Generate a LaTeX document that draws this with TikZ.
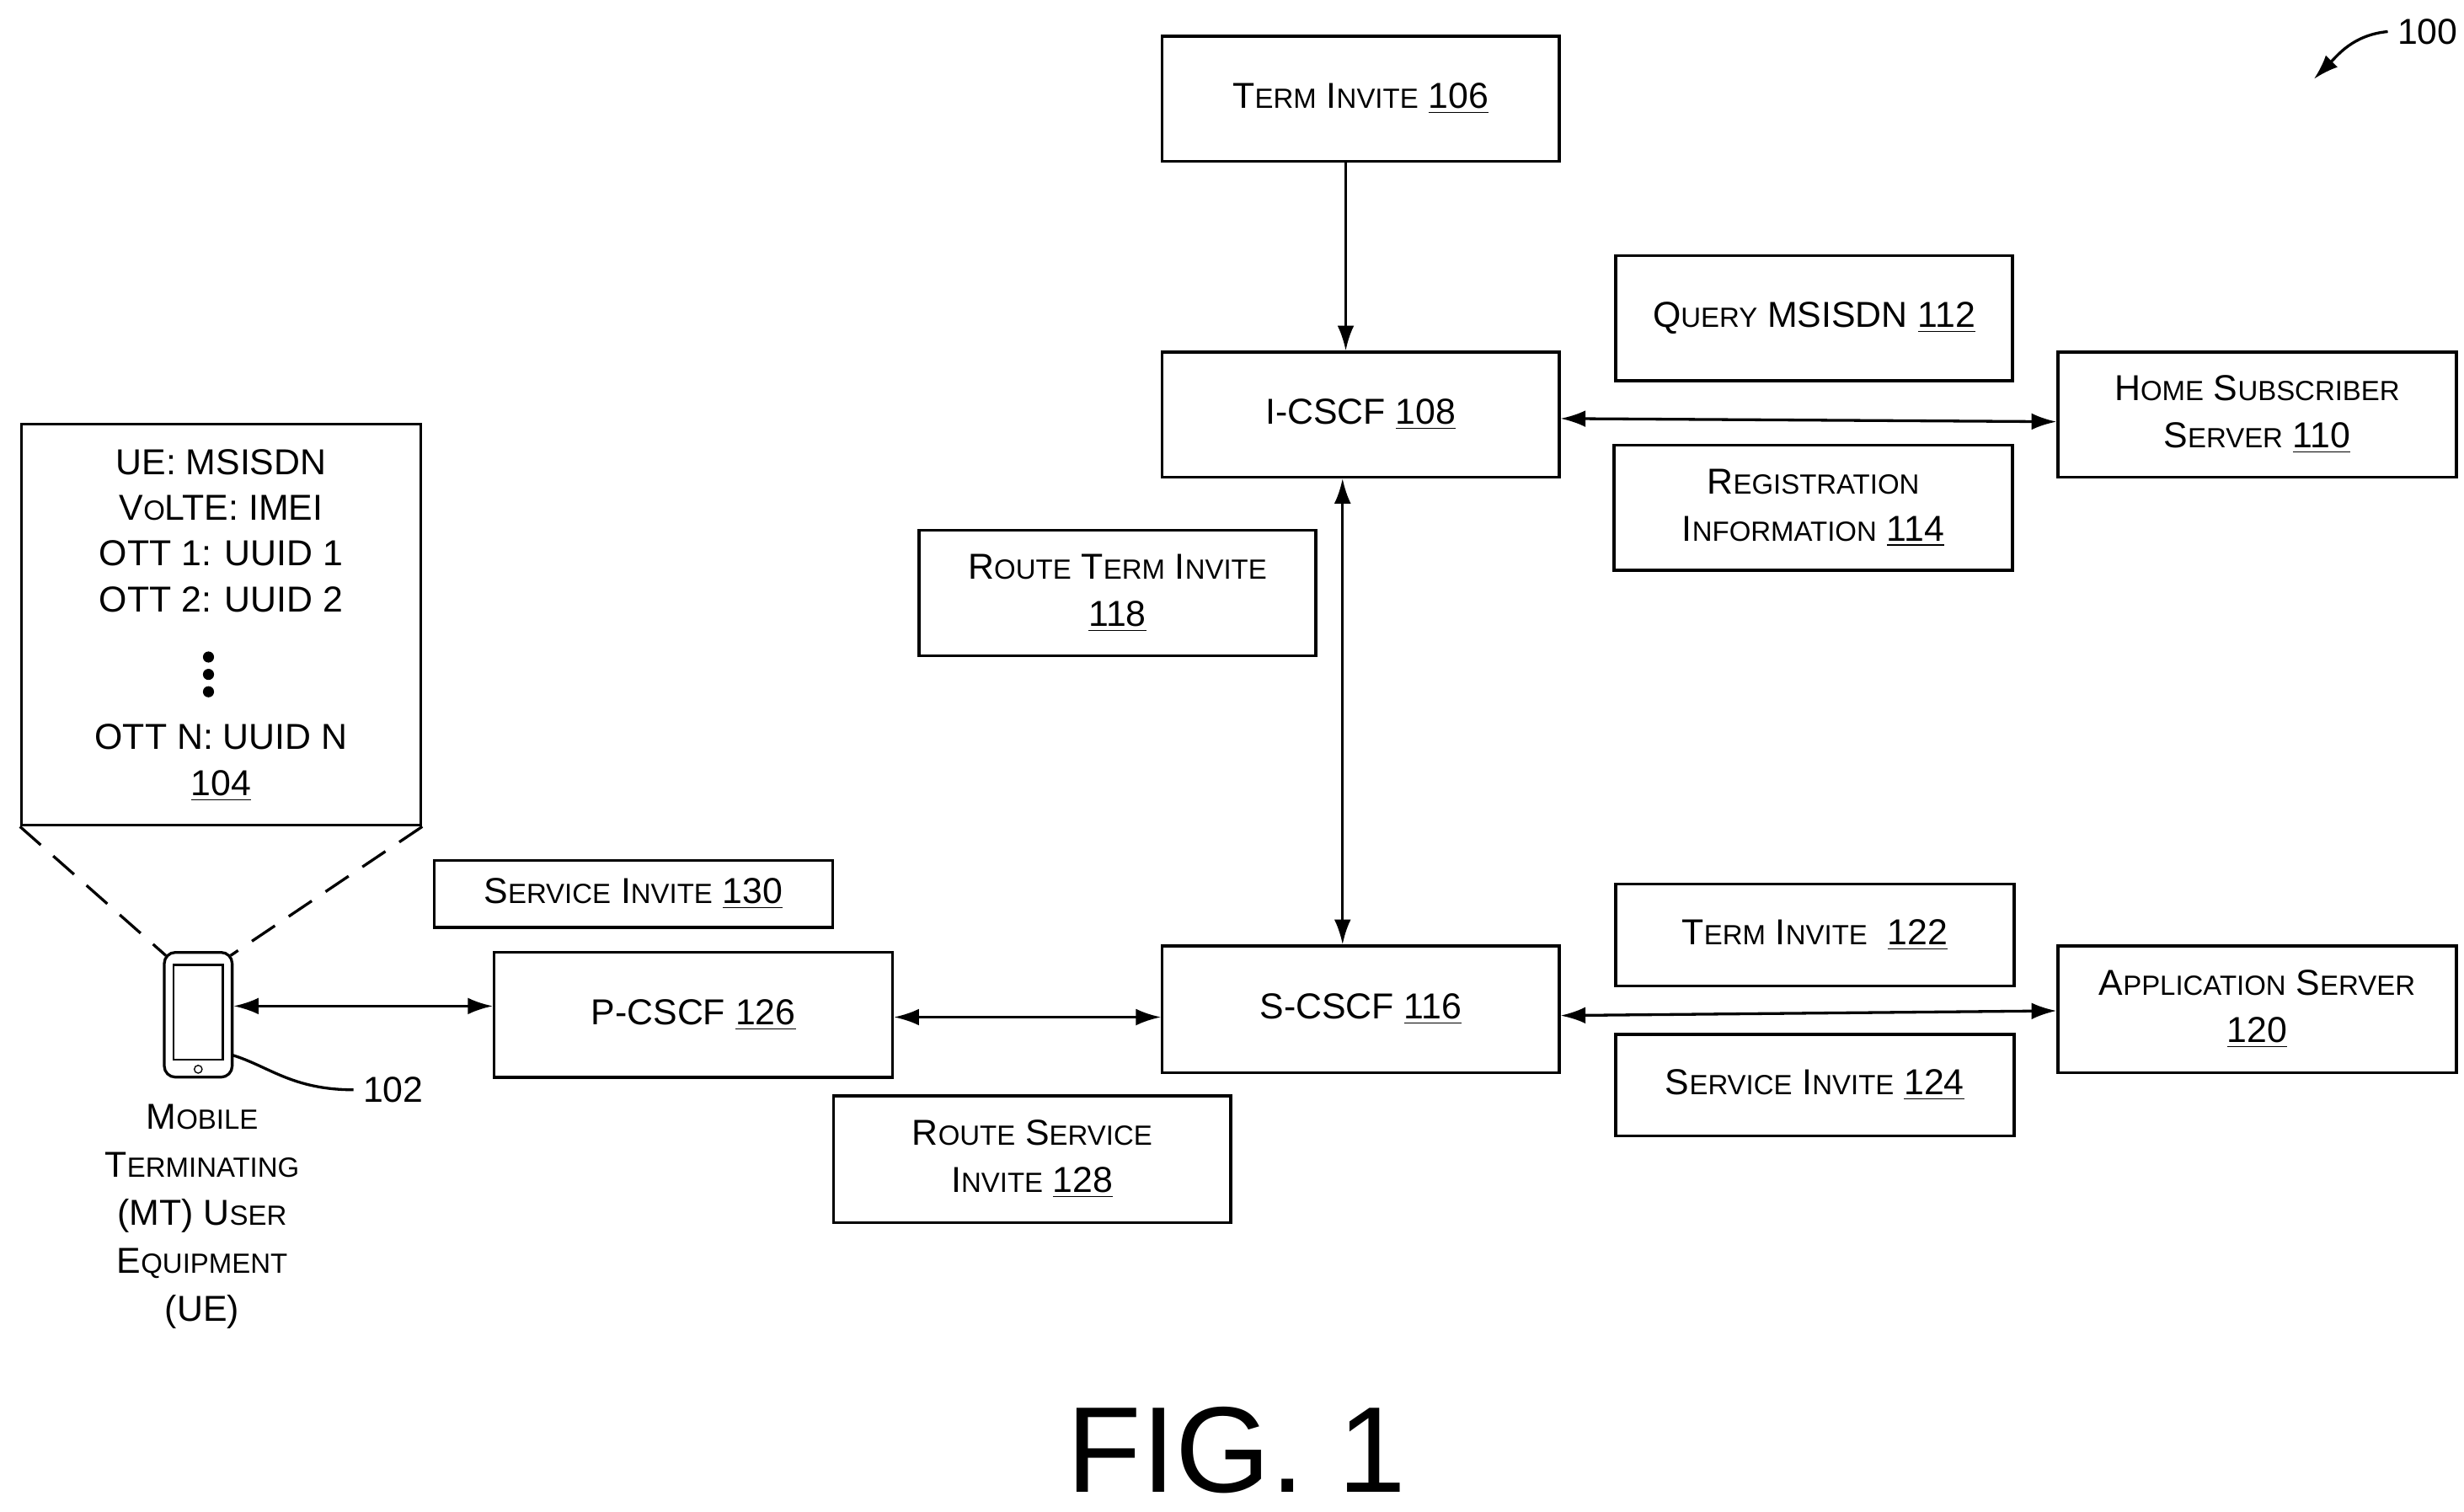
\documentclass[tikz,border=0pt]{standalone}
\usepackage{fontspec}
\setmainfont{Liberation Sans}
\usetikzlibrary{arrows.meta}
\newcommand\sm[1]{{\fontsize{10}{12}\selectfont #1}}
\newcommand\un[1]{\underline{#1}}
\begin{document}
\begin{tikzpicture}[x=0.02cm,y=-0.02cm,
  box/.style={draw,line width=1pt,align=center,font=\fontsize{13}{17}\selectfont,inner sep=0pt},
  ar/.style={line width=1pt,-{Latex[length=9pt,width=6pt]}},
  dar/.style={line width=1pt,{Latex[length=9pt,width=6pt]}-{Latex[length=9pt,width=6pt]}},
  lbl/.style={align=center,font=\fontsize{13}{17}\selectfont},
  dot/.style={fill,circle,inner sep=0pt,minimum size=4pt}]
\useasboundingbox (0,0) rectangle (1560,957);
\newcommand\bx[6]{\node[box,minimum width={(#4-#2)*0.02cm-1pt},minimum height={(#5-#3)*0.02cm-1pt}] (#1) at ({(#2+#4)/2},{(#3+#5)/2}) {#6};}
\bx{t106}{735}{22}{988}{103}{T\sm{ERM} I\sm{NVITE} \un{106}}
\bx{i108}{735}{222}{988}{303}{I-CSCF \un{108}}
\bx{q112}{1022}{161}{1275}{242}{Q\sm{UERY} MSISDN \un{112}}
\bx{r114}{1021}{281}{1275}{362}{R\sm{EGISTRATION}\\I\sm{NFORMATION} \un{114}}
\bx{h110}{1302}{222}{1556}{303}{H\sm{OME} S\sm{UBSCRIBER}\\S\sm{ERVER} \un{110}}
\bx{r118}{581}{335}{834}{416}{R\sm{OUTE} T\sm{ERM} I\sm{NVITE}\\\un{118}}
\bx{s116}{735}{598}{988}{680}{S-CSCF \un{116}}
\bx{t122}{1022}{559}{1276}{625}{T\sm{ERM} I\sm{NVITE}\ \ \un{122}}
\bx{s124}{1022}{654}{1276}{720}{S\sm{ERVICE} I\sm{NVITE} \un{124}}
\bx{a120}{1302}{598}{1556}{680}{A\sm{PPLICATION} S\sm{ERVER}\\\un{120}}
\bx{p126}{312}{602}{566}{683}{P-CSCF \un{126}}
\bx{s130}{274}{544}{528}{588}{S\sm{ERVICE} I\sm{NVITE} \un{130}}
\bx{r128}{527}{693}{780}{775}{R\sm{OUTE} S\sm{ERVICE}\\I\sm{NVITE} \un{128}}
\node[draw,line width=1pt,minimum width=5.06cm,minimum height=5.08cm] (ue) at (140,395.5) {};
\node[lbl,font=\fontsize{13}{16.5}\selectfont] (uetxt) at (140,336) {UE: MSISDN\\V\sm{O}LTE: IMEI\\OTT 1: UUID 1\\OTT 2: UUID 2};
\node[dot] (d1) at (132,416) {};
\node[dot] (d2) at (132,427) {};
\node[dot] (d3) at (132,438) {};
\node[lbl,font=\fontsize{13}{16.5}\selectfont] (uen) at (140,483) {OTT N: UUID N\\\un{104}};
% phone
\node[draw,line width=1pt,rounded corners=4pt,minimum width=0.86cm,minimum height=1.58cm,inner sep=0pt] (ph) at (125.5,642.5) {};
\node[draw,line width=0.7pt,minimum width=0.62cm,minimum height=1.2cm,inner sep=0pt] (scr) at (125.5,641) {};
\node[draw,circle,inner sep=1pt] (btn) at (125.5,677) {};
\coordinate (ptl) at (105,605); \coordinate (ptr) at (146,605);
\draw[line width=1pt,dash pattern=on 10pt off 6pt] (ue.south west) -- (ptl);
\draw[line width=1pt,dash pattern=on 10pt off 6pt] (ue.south east) -- (ptr);
\node[lbl] (l102) at (249,690) {102};
\coordinate (pl) at (147,668);
\draw[line width=1pt] (pl) .. controls (170,675) and (185,690) .. (l102.west);
\node[lbl,font=\fontsize{13}{17.3}\selectfont] (mt) at (128,770) {M\sm{OBILE}\\T\sm{ERMINATING}\\(MT) U\sm{SER}\\E\sm{QUIPMENT}\\(UE)};
% arrows
\draw[ar] (t106.south -| 852,0) -- (i108.north -| 852,0);
\draw[dar] (i108.south -| 850,0) -- (s116.north -| 850,0);
\draw[dar] (i108.east |- 0,265) -- (h110.west |- 0,267);
\draw[dar] (s116.east |- 0,643) -- (a120.west |- 0,640);
\draw[dar] (p126.east |- 0,644) -- (s116.west |- 0,644);
\draw[dar] (ph.east |- 0,637) -- (p126.west |- 0,637);
% 100
\node[lbl] (l100) at (1537,20) {100};
\coordinate (a100) at (1465,50);
\draw[ar] (l100.west) .. controls (1490,22) and (1480,35) .. (a100);
\node[font=\fontsize{44}{48}\selectfont] (fig) at (783,918) {FIG. 1};
\end{tikzpicture}
\end{document}
